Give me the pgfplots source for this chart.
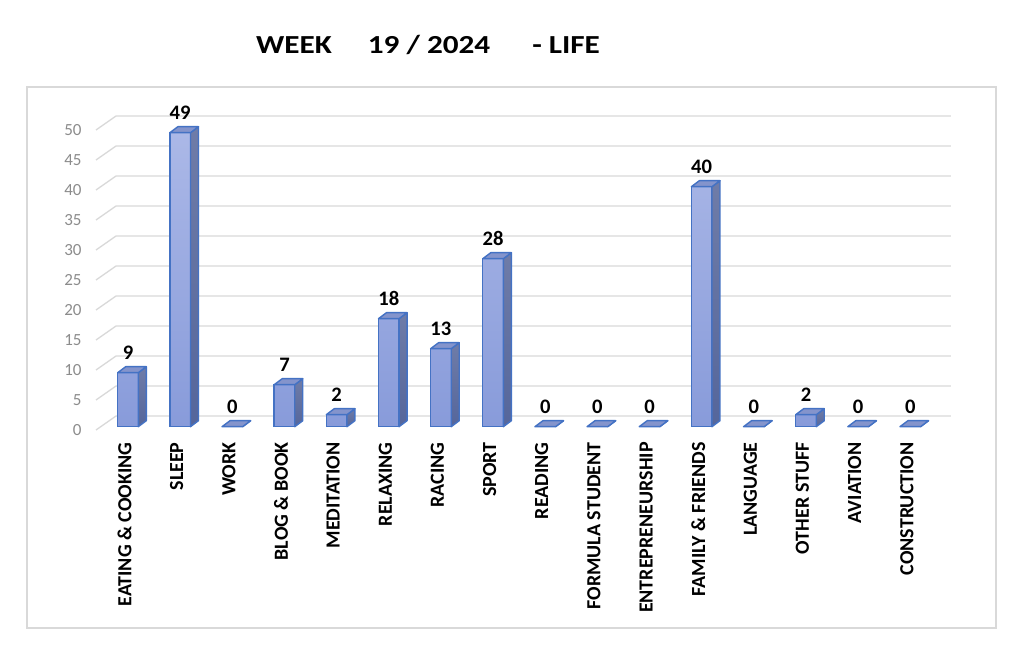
\documentclass[border=0pt]{standalone}
\usepackage{pgfplots}
\pgfplotsset{compat=1.18}
\usepackage{pgfplotstable}
\usepackage{fontspec}
\setmainfont{Carlito}
\usepackage{graphicx}

\definecolor{barline}{HTML}{4472C4}
\definecolor{fronttop}{HTML}{ABB8E7}
\definecolor{frontbot}{HTML}{889BDA}
\definecolor{sidetop}{HTML}{6F7CA8}
\definecolor{sidebot}{HTML}{55669B}
\definecolor{topface}{HTML}{8494CC}
\definecolor{gridc}{HTML}{D9D9D9}
\definecolor{tickc}{HTML}{8C8C8C}

\pgfplotstableread{
x v
0 9
1 49
2 0
3 7
4 2
5 18
6 13
7 28
8 0
9 0
10 0
11 40
12 0
13 2
14 0
15 0
}\lifedata

\pgfplotstableread{
x dy
-0.614 -0.55
-0.230 1.78
15.78 1.78
}\gridtemplate

\pgfdeclareplotmark{bar3d}{%
  \pgfmathsetmacro\hh{-3*\barval}%
  \pgfmathsetmacro\hb{3-3*\barval}%
  \path[draw=barline, line width=0.7pt, line join=round, top color=sidetop, bottom color=sidebot]
    (5.15pt,0pt) -- (9.15pt,3pt) -- (9.15pt,\hb pt) -- (5.15pt,\hh pt) -- cycle;
  \path[draw=barline, line width=0.7pt, line join=round, fill=topface]
    (-5.15pt,0pt) -- (5.15pt,0pt) -- (9.15pt,3pt) -- (-1.15pt,3pt) -- cycle;
}

\begin{document}
\begin{tikzpicture}
\useasboundingbox[fill=white] (0,0) rectangle (511.5pt,325.5pt);
\draw[gridc, line width=0.7pt] (13.5pt,282pt) rectangle (498pt,11.5pt);
\node[font=\bfseries\fontsize{13}{15}\selectfont, inner sep=0pt] at (214pt,303pt)
  {\scalebox{1.2}[1]{WEEK\hspace{15pt}19 / 2024\hspace{17.5pt}- LIFE}};

\begin{axis}[
  at={(48pt,112.15pt)}, anchor=south west,
  x=26.075pt, y=3pt,
  xmin=-0.614, xmax=15.8, ymin=0, ymax=52,
  clip=false,
  axis line style={draw=none},
  tick style={draw=none},
  xtick={0,...,15},
  xticklabels={EATING \& COOKING, SLEEP, WORK, BLOG \&\ BOOK, MEDITATION, RELAXING, RACING, SPORT, READING, FORMULA STUDENT, ENTREPRENEURSHIP, FAMILY \& FRIENDS, LANGUAGE, OTHER STUFF, AVIATION, CONSTRUCTION},
  xticklabel style={font=\bfseries\fontsize{10}{12}\selectfont, anchor=east, inner sep=0pt, xshift=-1.75pt, yshift=-7.65pt, rotate=90},
  ytick={0,5,...,50},
  yticklabel style={font=\fontsize{8.5}{10}\selectfont, text=tickc, anchor=east, inner sep=0pt, xshift=-7pt, yshift=-1.65pt},
  /pgf/number format/assume math mode=true,
]
\pgfplotsinvokeforeach{0,5,...,50}{
  \addplot[gridc, line width=0.65pt, forget plot] table[x=x, y expr=\thisrow{dy}+#1] {\gridtemplate};
}
\addplot[ybar, bar width=10.3pt, draw=barline, line width=0.7pt,
  top color=fronttop, bottom color=frontbot,
  restrict y to domain=0.01:100] table[x=x, y=v] {\lifedata};
\addplot[scatter, only marks, mark=bar3d,
  scatter/use mapped color={draw=barline, fill=topface},
  visualization depends on={rawy \as \barval},
  nodes near coords,
  nodes near coords style={font=\bfseries\fontsize{10.3}{12}\selectfont, text=black, anchor=base, yshift=6.6pt, inner sep=0pt},
] table[x=x, y=v] {\lifedata};
\end{axis}
\end{tikzpicture}
\end{document}
